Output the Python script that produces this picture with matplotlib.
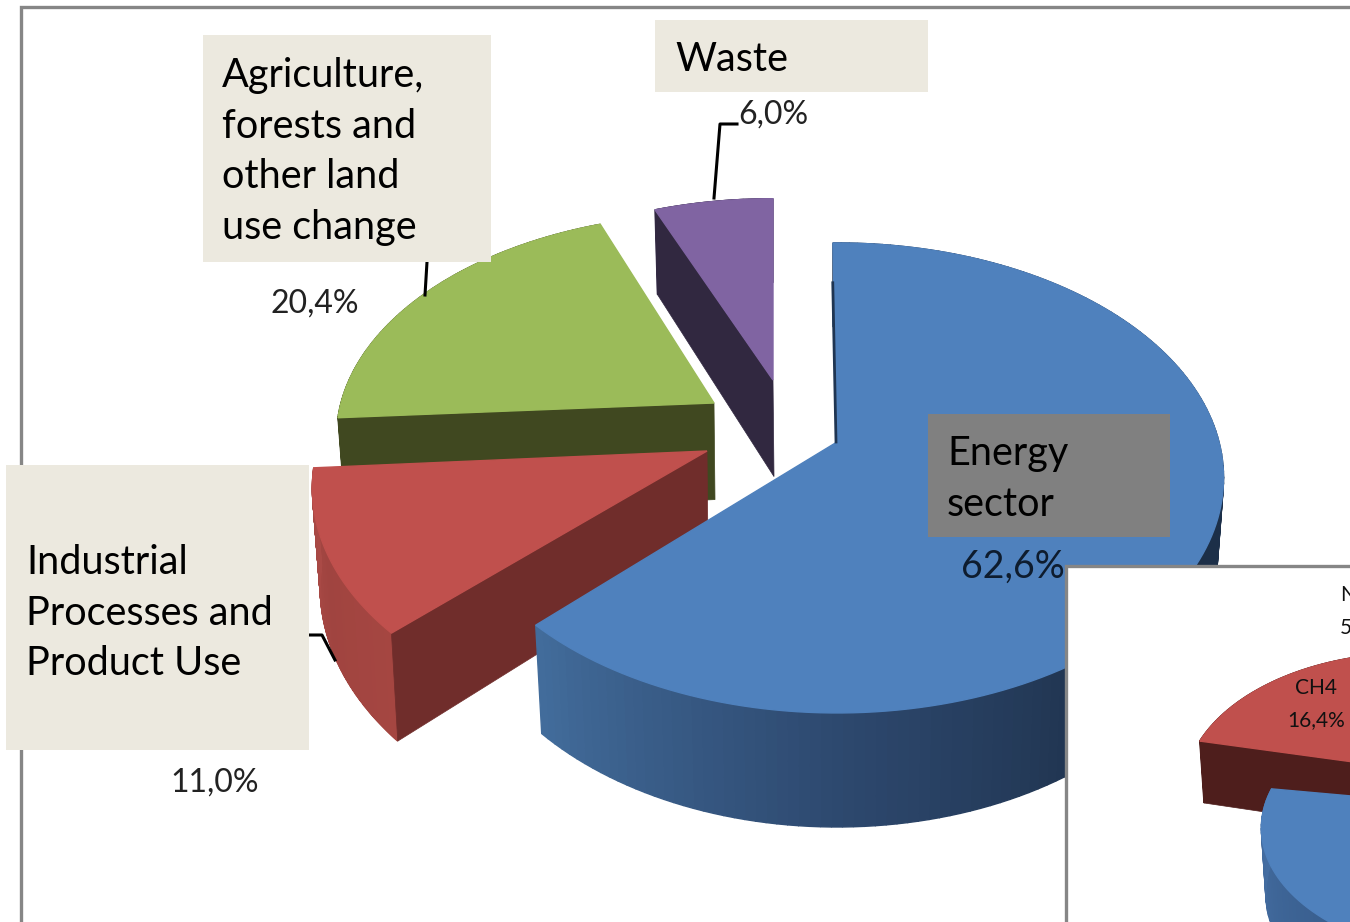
import numpy as np
import matplotlib
matplotlib.use("Agg")
import matplotlib.pyplot as plt
from matplotlib.patches import Rectangle

plt.rcParams['font.family'] = ['Lato', 'DejaVu Sans']

# main pie, clockwise from 12 o'clock
sectors = ['Energy sector', 'Industrial Processes and Product Use',
           'Agriculture, forests and other land use change', 'Waste']
shares = [62.6, 11.0, 20.4, 6.0]
share_labels = ['62,6%', '11,0%', '20,4%', '6,0%']

# small pie in the corner
gas_names = ['CO2', 'CH4', 'N2O']
gas_shares = [78.0, 16.4, 5.6]
gas_labels = ['78,0%', '16,4%', '5,6%']

top_colors = ['#4F81BD', '#C0504D', '#9BBB59', '#8064A2']
face_colors = ['#1F3552', '#702D2B', '#404820', '#312840']
BOX = '#ECE9DF'
FRAME = '#868686'

K = 0.153   # perspective strength


def project(deg, apex, a, b):
    '''angle clockwise from top to screen coordinates and depth factor'''
    t = np.radians(deg)
    u, v = np.sin(t), np.cos(t)
    w = 1 + K*v
    return apex[0] + a*u/w, apex[1] - b*v/w, 1/w


def wall_colors(n, stops):
    pos = np.linspace(0, 1, n)
    xp = np.linspace(0, 1, len(stops))
    arr = np.array(stops)/255
    return np.column_stack([np.interp(pos, xp, arr[:, i]) for i in range(3)])


def slice3d(ax, start, end, apex, a, b, depth, top, face, stops, front=None):
    '''one exploded slice: outer wall strips, flat radial wall, top face'''
    deg = np.linspace(start, end, 160)
    x, y, w = project(deg, apex, a, b)
    xb = apex[0] + (x - apex[0])*0.98
    yb = y + depth*w
    cols = wall_colors(len(deg) - 1, stops)
    for i in range(len(deg) - 1):
        ax.fill([x[i], x[i+1], xb[i+1], xb[i]], [y[i], y[i+1], yb[i+1], yb[i]],
                color=cols[i], lw=1.0)
    if front == 'start':
        ax.fill([x[0], apex[0], apex[0] + 1, xb[0]],
                [y[0], apex[1], apex[1] + depth, yb[0]], color=face, lw=0.5)
    ax.fill(np.r_[apex[0], x], np.r_[apex[1], y], color=top, lw=1.0)


fig = plt.figure(figsize=(13.5, 9.22), dpi=100)
ax = fig.add_axes([0, 0, 1, 1])
ax.set_xlim(0, 1350)
ax.set_ylim(922, 0)
ax.axis('off')
ax.autoscale(False)

ax.add_patch(Rectangle((21, 7), 1500, 1000, fc='white', ec=FRAME, lw=2.4))

edges = np.r_[0, np.cumsum(shares)]*3.6

# leader lines sit under the slices and boxes
ax.plot([737, 720, 714], [124, 124, 198], color='k', lw=2.2)
ax.plot([427, 425], [262, 295], color='k', lw=2.2)
ax.plot([309, 322, 335], [635, 635, 660], color='k', lw=2.2)

D = 96.6
# waste
slice3d(ax, edges[3], edges[4], (773, 380), 366, 209, D, top_colors[3], face_colors[3],
        [(60, 50, 80), (60, 50, 80)], front='start')
# agriculture, each slice is turned a degree or so to sit like the original
slice3d(ax, edges[2] + 1.2, edges[3] + 1.2, (714, 403), 373, 218, D, top_colors[2], face_colors[2],
        [(64, 72, 32), (64, 72, 32)], front='start')
# industrial
slice3d(ax, edges[1] + 1, edges[2] + 1, (707, 451), 390, 236, D, top_colors[1], face_colors[1],
        [(165, 70, 65), (160, 68, 64), (170, 74, 70)], front='start')
# energy, its hidden edge only shows as a thin dark line
xe, ye, _ = project(edges[0] - 0.7, (837, 442), 382, 229.5)
ax.plot([xe + 0.2*(837 - xe) - 1, 836], [ye + 0.2*(442 - ye), 442], color=face_colors[0], lw=2)
slice3d(ax, edges[0] - 0.7, edges[1] - 0.7, (837, 442), 382, 229.5, D, top_colors[0], face_colors[0],
        [(28, 50, 80), (28, 50, 80), (28, 48, 74), (28, 46, 70), (45, 72, 110), (66, 108, 155)])

# label boxes and text
ax.add_patch(Rectangle((203, 35), 288, 227, fc=BOX, ec='none', zorder=5))
ax.add_patch(Rectangle((655, 20), 273, 72, fc=BOX, ec='none', zorder=5))
ax.add_patch(Rectangle((6, 465), 303, 285, fc=BOX, ec='none', zorder=5))
ax.add_patch(Rectangle((928, 414), 242, 123, fc='#808080', ec='none', zorder=5))

FS = 28.5
kw = dict(color='k', fontsize=FS, zorder=6, linespacing=1.45, va='top', ha='left')
ax.text(222, 57, 'Agriculture,\nforests and\nother land\nuse change', **kw)
ax.text(675, 41, 'Waste', **kw)
ax.text(26, 544, 'Industrial\nProcesses and\nProduct Use', **kw)
ax.text(947, 435, 'Energy\nsector', **kw)

vk = dict(ha='center', va='center', zorder=6)
ax.text(1013, 567, share_labels[0], fontsize=27, color='#0E1C2E', **vk)
ax.text(215, 783, share_labels[1], fontsize=23, color='#222222', **vk)
ax.text(315, 304, share_labels[2], fontsize=23, color='#222222', **vk)
ax.text(773, 115, share_labels[3], fontsize=23, color='#222222', **vk)

# corner pie with its own white frame
ax.add_patch(Rectangle((1066, 566), 500, 500, fc='white', ec=FRAME, lw=2.4, zorder=7))
gas_edges = np.r_[0, np.cumsum(gas_shares)]*3.6 + 2.0
Di = 64


def inset_slice(start, end, apex, a, b, top, face, stops, front=None):
    n0 = len(ax.patches)
    slice3d(ax, start, end, apex, a, b, Di, top, face, stops, front=front)
    for p in ax.patches[n0:]:
        p.set_zorder(8)


inset_slice(gas_edges[2], gas_edges[3], (1412, 770), 225, 135, top_colors[2], face_colors[2],
            [(64, 72, 32), (64, 72, 32)], front='start')
inset_slice(gas_edges[1], gas_edges[2], (1412, 770), 225, 135, top_colors[1], '#4E1E1C',
            [(78, 30, 28), (78, 30, 28)], front='start')
inset_slice(gas_edges[0] - 4, gas_edges[1] - 4, (1486, 808), 222, 128, top_colors[0], face_colors[0],
            [(28, 50, 80), (28, 50, 80), (50, 85, 130), (70, 112, 165)])

tk = dict(fontsize=15, va='center', color='#111111', zorder=9)
ax.text(1316, 688, gas_names[1], ha='center', **tk)
ax.text(1316, 720, gas_labels[1], ha='center', **tk)
ax.text(1340, 595, gas_names[2], ha='left', **tk)
ax.text(1340, 627, gas_labels[2], ha='left', **tk)

fig.savefig('out.png', dpi=100)
